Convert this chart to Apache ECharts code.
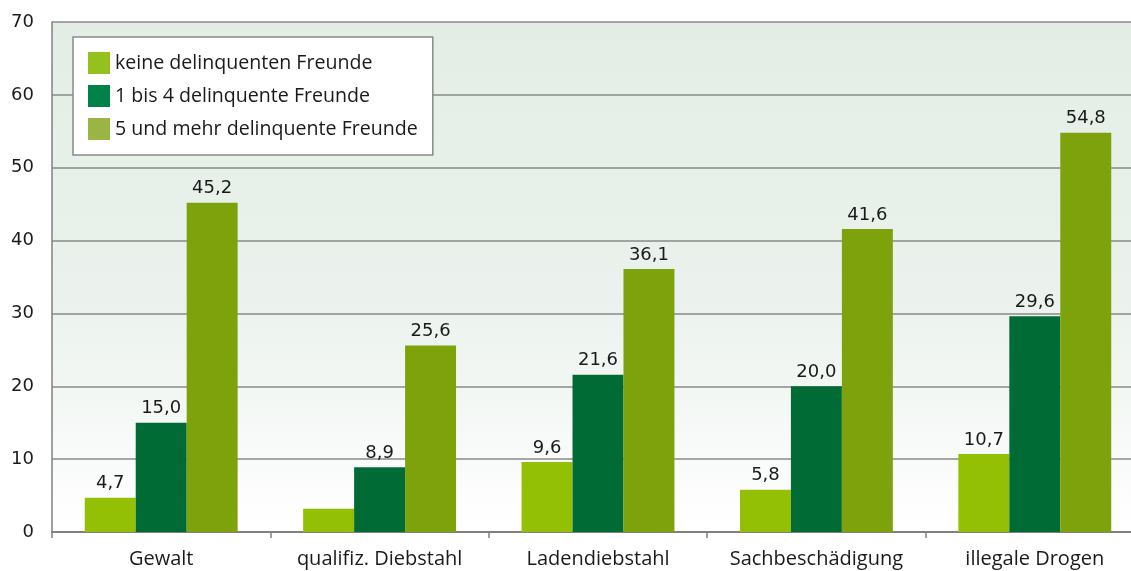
<!DOCTYPE html>
<html>
<head>
<meta charset="utf-8">
<script src="https://cdn.jsdelivr.net/npm/echarts@6/dist/echarts.min.js"></script>
<style>
  html, body { margin: 0; padding: 0; background: #ffffff; }
  #chart { width: 1131px; height: 571px; }
</style>
</head>
<body>
<div id="chart"></div>
<script>
// Offence categories along the x axis
const categories = ['Gewalt', 'qualifiz. Diebstahl', 'Ladendiebstahl', 'Sachbeschädigung', 'illegale Drogen'];

// Share of offenders (%) by number of delinquent friends
const seriesNames = ['keine delinquenten Freunde', '1 bis 4 delinquente Freunde', '5 und mehr delinquente Freunde'];
const keineFreunde = [4.7, 3.2, 9.6, 5.8, 10.7];
const einsBisVier = [15.0, 8.9, 21.6, 20.0, 29.6];
const fuenfUndMehr = [45.2, 25.6, 36.1, 41.6, 54.8];

// The qualifiz. Diebstahl value of the first group carries no label
const unlabeled = [[0, 1]];

const yTicks = [0, 10, 20, 30, 40, 50, 60, 70];

const barColors = ['#93BF05', '#006B35', '#7DA20C'];
const legendColors = ['#95C11F', '#00814A', '#9BB545'];

const textFont = '"Open Sans", "Noto Sans", sans-serif';
const numFont = '"DejaVu Sans", "Open Sans", sans-serif';

function fmt(v) { return v.toFixed(1).replace('.', ','); }

function makeSeries(idx, values) {
  return {
    name: seriesNames[idx],
    type: 'bar',
    data: values.map((v, i) => {
      const hide = unlabeled.some(u => u[0] === idx && u[1] === i);
      return { value: v, label: { show: !hide } };
    }),
    barGap: '0%',
    barCategoryGap: '30%',
    itemStyle: { color: barColors[idx] },
    label: {
      show: true,
      position: 'top',
      distance: 5,
      color: '#1a1a1a',
      fontFamily: numFont,
      fontSize: 18,
      formatter: p => fmt(p.value)
    },
    emphasis: { disabled: true }
  };
}

const chart = echarts.init(document.getElementById('chart'), null, { renderer: 'canvas' });

chart.setOption({
  animation: false,
  backgroundColor: '#ffffff',
  grid: {
    left: 52,
    width: 1092,
    top: 22,
    bottom: 39,
    containLabel: false,
    outerBoundsMode: 'none',
    show: true,
    borderWidth: 0,
    backgroundColor: {
      type: 'linear', x: 0, y: 0, x2: 0, y2: 1,
      colorStops: [
        { offset: 0, color: '#E3EDE5' },
        { offset: 0.55, color: '#EBF2ED' },
        { offset: 1, color: '#FFFFFF' }
      ]
    }
  },
  legend: {
    orient: 'vertical',
    left: 73,
    top: 37,
    backgroundColor: '#ffffff',
    borderColor: '#8a8a8a',
    borderWidth: 1.5,
    borderRadius: 0,
    padding: [15, 15, 15, 15],
    itemWidth: 22,
    itemHeight: 22,
    itemGap: 11,
    icon: 'rect',
    textStyle: { fontFamily: textFont, fontSize: 19.6, color: '#1a1a1a' },
    data: seriesNames.map((n, i) => ({ name: n, itemStyle: { color: legendColors[i] } })),
    selectedMode: false
  },
  xAxis: {
    type: 'category',
    data: categories,
    axisLine: { show: true, lineStyle: { color: '#808080', width: 2 } },
    axisTick: { show: true, interval: 0, length: 6, lineStyle: { color: '#808080', width: 1.5 } },
    axisLabel: { interval: 0, hideOverlap: false, fontFamily: textFont, fontSize: 20, color: '#1a1a1a', margin: 17 }
  },
  yAxis: {
    type: 'value',
    min: yTicks[0],
    max: yTicks[yTicks.length - 1],
    interval: 10,
    axisLine: { show: true, lineStyle: { color: '#808080', width: 1.5 } },
    axisTick: { show: false },
    axisLabel: { fontFamily: numFont, fontSize: 18, color: '#1a1a1a', margin: 18 },
    splitLine: { show: true, lineStyle: { color: '#8a8a8a', width: 1.5 } }
  },
  series: [
    makeSeries(0, keineFreunde),
    makeSeries(1, einsBisVier),
    makeSeries(2, fuenfUndMehr)
  ]
});
</script>
</body>
</html>
